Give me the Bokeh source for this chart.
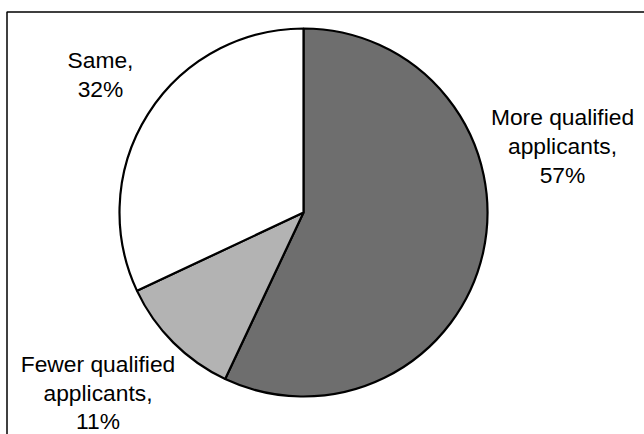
import math

from bokeh.core.properties import value
from bokeh.embed import file_html
from bokeh.models import ColumnDataSource
from bokeh.plotting import figure
from bokeh.resources import INLINE

# Survey answers, clockwise from 12 o'clock
categories = ["More qualified applicants", "Fewer qualified applicants", "Same"]
shares = [57, 11, 32]
fills = ["#6e6e6e", "#b3b3b3", "#ffffff"]

# How each category name wraps onto label lines
label_wraps = [["More qualified", "applicants"], ["Fewer qualified", "applicants"], ["Same"]]

W, H = 644, 434
CX, CY, R = 303, H - 212, 184

# Wedge angles, drawn clockwise starting at the top
starts, ends = [], []
acc = 0.0
for s in shares:
    starts.append(math.pi / 2 - 2 * math.pi * acc / 100)
    acc += s
    ends.append(math.pi / 2 - 2 * math.pi * acc / 100)

wedges = ColumnDataSource(dict(
    category=categories, share=shares, fill=fills,
    start=starts, end=ends,
    x=[CX] * len(shares), y=[CY] * len(shares),
))

p = figure(width=W, height=H, x_range=(0, W), y_range=(0, H),
           output_backend="svg", toolbar_location=None,
           min_border=0, outline_line_color=None,
           background_fill_color="white", border_fill_color="white")
p.axis.visible = False
p.grid.visible = False

# Chart frame (top and left edges inside the page)
p.line(x=[6.5, 6.5, W + 20], y=[-20, H - 11.5, H - 11.5],
       line_color="#000000", line_width=1.5)

p.wedge(x="x", y="y", radius=R, start_angle="start", end_angle="end",
        direction="clock", fill_color="fill", line_color="#000000",
        line_width=2.2, source=wedges)

# Labels: category name (wrapped) with a trailing comma, then the share
anchors = [(562, 116.7), (97.5, 363.3), (100, 59.3)]
step = 28.7
lx, ly, lt = [], [], []
for wrap, share, (ax, ay) in zip(label_wraps, shares, anchors):
    lines = list(wrap)
    lines[-1] = lines[-1] + ","
    lines.append(f"{share}%")
    for i, t in enumerate(lines):
        lx.append(ax)
        ly.append(H - (ay + i * step))
        lt.append(t)

p.text(x=lx, y=ly, text=lt, text_align="center", text_baseline="alphabetic",
       text_font=value("Liberation Sans"), text_font_size="22.8px",
       text_color="#000000")

open("out.html", "w").write(file_html(p, INLINE))
